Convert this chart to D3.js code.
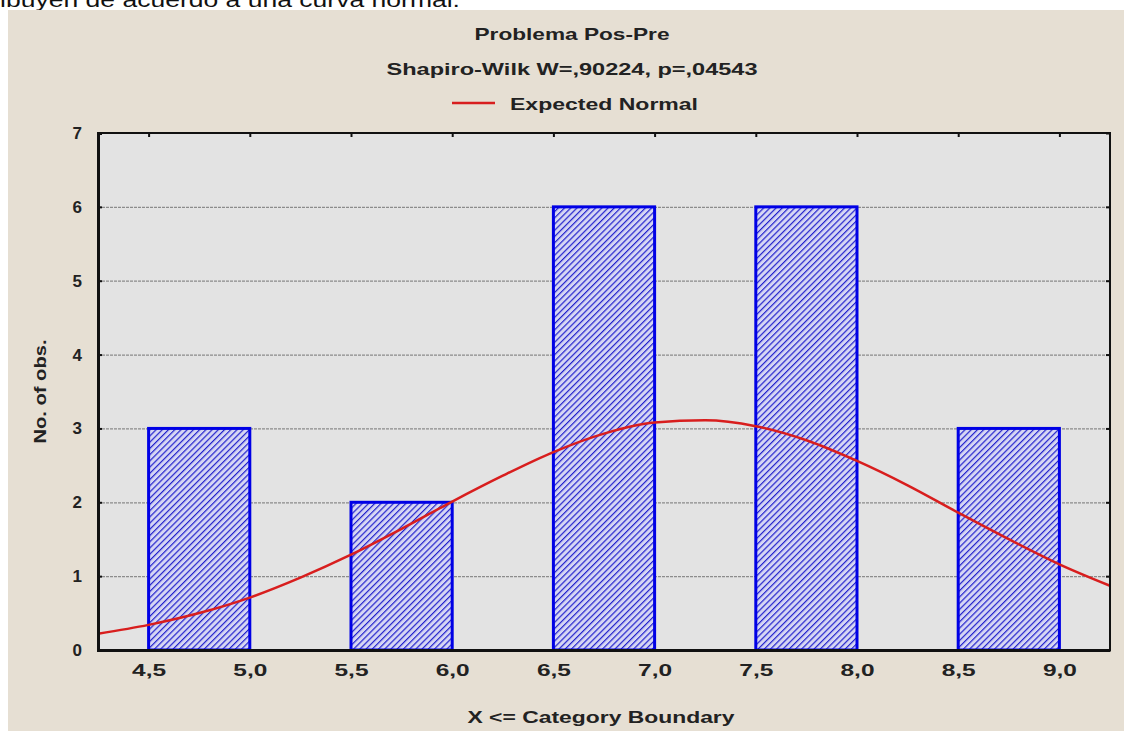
<!DOCTYPE html>
<html>
<head>
<meta charset="utf-8">
<script src="https://cdn.jsdelivr.net/npm/d3@7"></script>
<style>
  body { margin: 0; background: #fff; }
  svg { display: block; }
  text { font-family: "Liberation Sans", Arial, sans-serif; }
</style>
</head>
<body>
<div id="chart"></div>
<script>
// histogram bins: upper category boundary and count
const boundaries = [5.0, 6.0, 7.0, 8.0, 9.0];
const counts = [3, 2, 6, 6, 3];
const binWidth = 0.5;
// expected normal curve
const curveX = [4.25, 4.5, 4.75, 5.0, 5.25, 5.5, 5.75, 6.0, 6.25, 6.5, 6.75, 7.0, 7.25, 7.5, 7.75, 8.0, 8.25, 8.5, 8.75, 9.0, 9.25];
const curveY = [0.22, 0.34, 0.50, 0.71, 0.98, 1.29, 1.64, 2.01, 2.36, 2.68, 2.93, 3.08, 3.11, 3.03, 2.84, 2.56, 2.23, 1.86, 1.50, 1.16, 0.87];
const xTicks = [4.5, 5.0, 5.5, 6.0, 6.5, 7.0, 7.5, 8.0, 8.5, 9.0];
const yTicks = [0, 1, 2, 3, 4, 5, 6, 7];

const width = 1124, height = 731;
const margin = { left: 98, right: 14, top: 133, bottom: 81 };
const svg = d3.select('#chart').append('svg')
    .attr('width', width)
    .attr('height', height);

// cut-off sentence from the page above the figure
svg.append('text')
    .attr('x', 0).attr('y', 7)
    .attr('font-family', 'DejaVu Sans')
    .attr('font-size', 21)
    .attr('fill', '#111')
    .attr('textLength', 460)
    .attr('lengthAdjust', 'spacingAndGlyphs')
    .text('ibuyen de acuerdo a una curva normal.');

svg.append('rect')
    .attr('x', 8).attr('y', 10)
    .attr('width', width - 8).attr('height', height - 10)
    .attr('fill', '#e6dfd3');

const x = d3.scaleLinear()
    .domain([4.25, 9.25])
    .range([margin.left, width - margin.right]);
const y = d3.scaleLinear()
    .domain([0, 7])
    .range([height - margin.bottom, margin.top]);

const defs = svg.append('defs');
const pat = defs.append('pattern')
    .attr('id', 'hatch')
    .attr('patternUnits', 'userSpaceOnUse')
    .attr('width', 4.4).attr('height', 4.4)
    .attr('patternTransform', 'rotate(45)');
pat.append('rect').attr('width', 4.4).attr('height', 4.4).attr('fill', '#d6d6f4');
pat.append('line')
    .attr('x1', 0).attr('y1', 0).attr('x2', 0).attr('y2', 4.4)
    .attr('stroke', '#2222cc').attr('stroke-width', 2.4);

// plot area
svg.append('rect')
    .attr('x', x.range()[0]).attr('y', y.range()[1])
    .attr('width', x.range()[1] - x.range()[0])
    .attr('height', y.range()[0] - y.range()[1])
    .attr('fill', '#e3e3e3');

// grid lines
svg.append('g')
    .attr('transform', `translate(${margin.left},0)`)
    .call(d3.axisLeft(y).tickValues(yTicks.slice(1, -1))
        .tickSize(-(x.range()[1] - x.range()[0])).tickFormat(''))
    .call(g => g.select('.domain').remove())
    .call(g => g.selectAll('line')
        .attr('stroke', '#8c8c8c')
        .attr('stroke-width', 1.2)
        .attr('stroke-dasharray', '3,1'));

// bars
svg.append('g').selectAll('rect')
    .data(boundaries)
    .join('rect')
    .attr('x', d => x(d - binWidth))
    .attr('y', (d, i) => y(counts[i]))
    .attr('width', d => x(d) - x(d - binWidth))
    .attr('height', (d, i) => y(0) - y(counts[i]))
    .attr('fill', 'url(#hatch)')
    .attr('stroke', '#0000e6')
    .attr('stroke-width', 3);

// expected normal
const line = d3.line()
    .x(d => x(d[0]))
    .y(d => y(d[1]))
    .curve(d3.curveMonotoneX);
svg.append('path')
    .datum(curveX.map((d, i) => [d, curveY[i]]))
    .attr('d', line)
    .attr('fill', 'none')
    .attr('stroke', '#d81e1e')
    .attr('stroke-width', 2.5);

// frame
svg.append('rect')
    .attr('x', x.range()[0]).attr('y', y.range()[1])
    .attr('width', x.range()[1] - x.range()[0])
    .attr('height', y.range()[0] - y.range()[1])
    .attr('fill', 'none')
    .attr('stroke', '#111')
    .attr('stroke-width', 2);

const comma = d => d3.format('.1f')(d).replace('.', ',');

// x axis
svg.append('g')
    .attr('transform', `translate(0,${y(0)})`)
    .call(d3.axisBottom(x).tickValues(xTicks).tickSize(0).tickPadding(14).tickFormat(comma))
    .call(g => g.select('.domain').attr('stroke', '#111').attr('stroke-width', 3))
    .call(g => g.selectAll('text')
        .attr('font-size', 17).attr('font-weight', 'bold').attr('fill', '#222')
        .attr('textLength', 34).attr('lengthAdjust', 'spacingAndGlyphs'));

// top ticks
svg.append('g')
    .attr('transform', `translate(0,${y(7)})`)
    .call(d3.axisTop(x).tickValues(xTicks).tickSize(-4).tickFormat(''))
    .call(g => g.select('.domain').remove())
    .call(g => g.selectAll('line').attr('stroke', '#111').attr('stroke-width', 2));

// y axis
svg.append('g')
    .attr('transform', `translate(${margin.left},0)`)
    .call(d3.axisLeft(y).tickValues(yTicks).tickSize(-4).tickPadding(16).tickFormat(d3.format('d')))
    .call(g => g.select('.domain').attr('stroke', '#111').attr('stroke-width', 3))
    .call(g => g.selectAll('line').attr('stroke', '#111').attr('stroke-width', 2))
    .call(g => g.selectAll('text')
        .attr('font-size', 17).attr('font-weight', 'bold').attr('fill', '#222'));

// right ticks
svg.append('g')
    .attr('transform', `translate(${x.range()[1]},0)`)
    .call(d3.axisRight(y).tickValues(yTicks).tickSize(-4).tickFormat(''))
    .call(g => g.select('.domain').remove())
    .call(g => g.selectAll('line').attr('stroke', '#111').attr('stroke-width', 2));

// titles
const cx = 572;
const label = (t, xx, yy, len) => svg.append('text')
    .attr('x', xx).attr('y', yy)
    .attr('text-anchor', 'middle')
    .attr('font-size', 17)
    .attr('font-weight', 'bold')
    .attr('fill', '#222')
    .attr('textLength', len)
    .attr('lengthAdjust', 'spacingAndGlyphs')
    .text(t);
label('Problema Pos-Pre', cx, 40, 195);
label('Shapiro-Wilk W=,90224, p=,04543', cx, 75, 371);
svg.append('line')
    .attr('x1', 452).attr('x2', 495)
    .attr('y1', 103).attr('y2', 103)
    .attr('stroke', '#d81e1e').attr('stroke-width', 2.5);
svg.append('text')
    .attr('x', 510).attr('y', 110)
    .attr('font-size', 17).attr('font-weight', 'bold').attr('fill', '#222')
    .attr('textLength', 188).attr('lengthAdjust', 'spacingAndGlyphs')
    .text('Expected Normal');
label('X <= Category Boundary', 601, 723, 267);

svg.append('text')
    .attr('transform', `translate(46,${(y(0) + y(7)) / 2}) rotate(-90)`)
    .attr('text-anchor', 'middle')
    .attr('font-size', 17).attr('font-weight', 'bold').attr('fill', '#222')
    .attr('textLength', 104).attr('lengthAdjust', 'spacingAndGlyphs')
    .text('No. of obs.');
</script>
</body>
</html>
